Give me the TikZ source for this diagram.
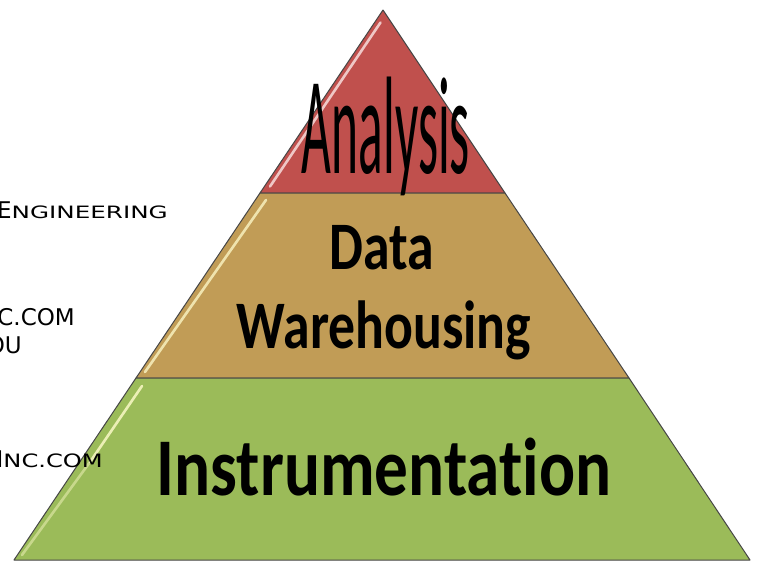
\documentclass[tikz,border=0pt]{standalone}
\usepackage{fontspec}
\newfontfamily\carlito[RawFeature=-liga]{Carlito}
\newfontfamily\dejavu{DejaVu Sans}
\definecolor{redband}{RGB}{192,80,77}
\definecolor{tanband}{RGB}{193,156,86}
\definecolor{greenband}{RGB}{155,187,89}
\definecolor{edgegray}{RGB}{70,70,70}
\tikzset{
  band/.style={draw=edgegray, line width=1pt, line join=round},
  shine/.style={line width=2.6pt, line cap=round, opacity=0.75},
  sidetext/.style={anchor=base east, inner sep=0pt, text=black},
  bandlabel/.style={anchor=base, inner sep=0pt, text=black}
}
\newcommand{\bigsc}[2]{{\dejavu\fontsize{23}{23}\selectfont #1\scalebox{1.07}[0.74]{#2}}}
\begin{document}
\begin{tikzpicture}[x=1pt,y=-1pt]
\useasboundingbox (0,0) rectangle (759,562);
\fill[white] (0,0) rectangle (759,562);

% left side texts
\node[sidetext] (t1) at (168,218) {\bigsc{E}{NGINEERING}};
\node[sidetext] (t2) at (75,325) {\dejavu\fontsize{23}{23}\selectfont C.COM};
\node[sidetext] (t3) at (22,353) {\dejavu\fontsize{23}{23}\selectfont OU};

% pyramid bands
\coordinate (A) at (383,10);
\coordinate (L1) at (260,193);
\coordinate (R1) at (505,193);
\coordinate (L2) at (136,378);
\coordinate (R2) at (629,378);
\coordinate (L3) at (14,560);
\coordinate (R3) at (750,560);

\path[band, fill=redband] (A) -- (R1) -- (L1) -- cycle;
\path[band, fill=tanband] (L1) -- (R1) -- (R2) -- (L2) -- cycle;
\path[band, fill=greenband] (L2) -- (R2) -- (R3) -- (L3) -- cycle;

% highlights along left edges
\draw[shine, color=white!75!pink] (380.5,22.5) -- (270,186.5);
\draw[shine, color=white!80!yellow] (266,200) -- (145,372);
\draw[shine, color=white!80!yellow, opacity=0.8] (142,386) -- (90,462);
\draw[shine, color=white!80!yellow, opacity=0.45] (90,462) -- (22,555);

% last side text over the pyramid
\node[sidetext] (t4) at (103,467) {\dejavu\fontsize{23}{23}\selectfont I\scalebox{1.05}[0.8]{NC.COM}};

% band labels
\node[bandlabel] (an) at (386,173) {\carlito\scalebox{0.37}[1]{\fontsize{139}{139}\selectfont Analysis}};
\node[bandlabel] (dw1) at (382,269) {\carlito\bfseries\scalebox{0.79}[1]{\fontsize{68}{68}\selectfont Data}};
\node[bandlabel] (dw2) at (384,348) {\carlito\bfseries\scalebox{0.79}[1]{\fontsize{68}{68}\selectfont Warehousing}};
\node[bandlabel] (in) at (384,495) {\carlito\bfseries\scalebox{0.82}[1]{\fontsize{82}{82}\selectfont Instrumentation}};
\end{tikzpicture}
\end{document}
